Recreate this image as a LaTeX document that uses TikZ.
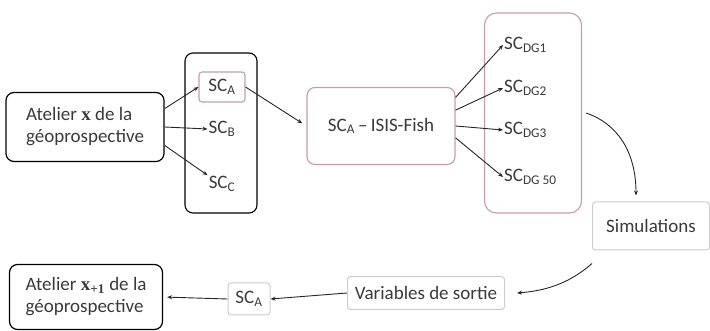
\documentclass[tikz,border=0pt]{standalone}
\usepackage{fontspec}
\setmainfont{Carlito}
\newfontfamily\serifbold{Liberation Serif}
\usepackage{tikz}
\usetikzlibrary{arrows.meta,calc}
\definecolor{cbRose}{HTML}{C99CA5}
\definecolor{cbLight}{HTML}{CDCDCD}
\definecolor{cbInk}{HTML}{3A3A3A}
\newcommand{\atvar}{{\serifbold\bfseries x}}
\begin{document}
\begin{tikzpicture}[x=1pt,y=-1pt,font=\fontsize{19}{22}\selectfont,text=cbInk,
  atelier/.style={draw=black,line width=1.2pt,rounded corners=8pt,align=left,inner sep=2pt},
  grp/.style={draw=black,line width=1.1pt,rounded corners=8pt},
  rose/.style={draw=cbRose,line width=1.1pt,rounded corners=8pt,align=center},
  pale/.style={draw=cbLight,line width=1pt,rounded corners=3pt,align=center},
  sc/.style={inner sep=1pt},
  flow/.style={-{Stealth[length=5pt,width=4pt]},line width=0.9pt,black!85}]
  \useasboundingbox (0,0) rectangle (710,331);
  \node[atelier,minimum width=158pt,minimum height=69pt] (atx) at (85,127) {Atelier \atvar{} de la\\géoprospective};
  \node[grp,minimum width=72pt,minimum height=160pt] (grpSC) at (221,133) {};
  \node[rose,rounded corners=3pt,minimum width=46pt,minimum height=30pt] (scA) at (222,87) {SC\textsubscript{A}};
  \node[sc] (scB) at (222,129) {SC\textsubscript{B}};
  \node[sc] (scC) at (222,184) {SC\textsubscript{C}};
  \node[rose,minimum width=148pt,minimum height=77pt] (isis) at (381,126) {SC\textsubscript{A}\,–\,ISIS-Fish};
  \node[rose,rounded corners=12pt,minimum width=97pt,minimum height=200pt] (grpDG) at (533,113) {};
  \node[sc,anchor=west] (dg1) at (503,45) {SC\textsubscript{DG1}};
  \node[sc,anchor=west] (dg2) at (503,88) {SC\textsubscript{DG2}};
  \node[sc,anchor=west] (dg3) at (503,130) {SC\textsubscript{DG3}};
  \node[sc,anchor=west] (dg4) at (503,177) {SC\textsubscript{DG 50}};
  \node[pale,minimum width=117pt,minimum height=48pt] (sim) at (651,226) {Simulations};
  \node[pale,minimum width=157pt,minimum height=33pt] (var) at (426,293) {Variables de sortie};
  \node[pale,minimum width=42pt,minimum height=32pt] (scA2) at (249,299) {SC\textsubscript{A}};
  \node[atelier,minimum width=153pt,minimum height=65pt] (atx1) at (86,297) {Atelier \atvar\textsubscript{\serifbold\bfseries +1} de la\\géoprospective};
  \draw[flow] (atx.13) -- (scA.west);
  \draw[flow] (atx.east) -- (scB.west);
  \draw[flow] (atx.-13) -- (scC.north west);
  \draw[flow,shorten >=5pt] (scA.east) -- (isis.west);
  \draw[flow] (isis.21) -- (dg1.west);
  \draw[flow] (isis.12) -- (dg2.west);
  \draw[flow] (isis.0) -- (dg3.west);
  \draw[flow] (isis.-9) -- (dg4.west);
  \draw[flow] ($(grpDG.east)+(4,0)$) .. controls +(30,10) and +(0,-45) .. ($(sim.north)+(-15,-6)$);
  \draw[flow] ($(sim.south west)+(0,13)$) .. controls +(-25,22) and +(25,-2) .. ($(var.east)+(12,0)$);
  \draw[flow] (var.west) -- (scA2.east);
  \draw[flow,shorten >=4pt] (scA2.west) -- (atx1.east);
\end{tikzpicture}
\end{document}
